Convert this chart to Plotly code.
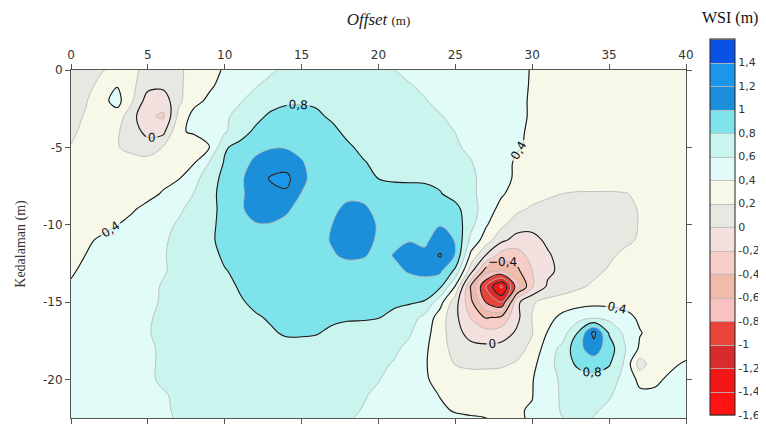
import plotly.graph_objects as go

# ---- grid coordinates (m) ----
offset_m = list(range(0, 41))
depth_m = [0, -1, -2, -3, -4, -5, -6, -7, -8, -9, -10, -11, -12,
           -13, -14, -15, -16, -17, -18, -19, -20, -21, -22, -23]

wsi_y00 = [0.12, 0.16, 0.19, 0.24, 0.22, 0.17, 0.15, 0.17, 0.26, 0.34,
           0.42, 0.48, 0.54, 0.58, 0.63, 0.66, 0.68, 0.69, 0.68, 0.66,
           0.63, 0.602, 0.56, 0.53, 0.5, 0.48, 0.46, 0.44, 0.43, 0.42,
           0.395, 0.38, 0.36, 0.35, 0.34, 0.33, 0.33, 0.32, 0.32, 0.32, 0.32]
wsi_y01 = [0.13, 0.16, 0.24, 0.39, 0.24, 0.06, 0.05, 0.16, 0.3, 0.37,
           0.46, 0.52, 0.59, 0.64, 0.7, 0.73, 0.74, 0.74, 0.73, 0.71,
           0.68, 0.64, 0.61, 0.57, 0.53, 0.5, 0.47, 0.45, 0.43, 0.415,
           0.395, 0.37, 0.35, 0.34, 0.33, 0.33, 0.33, 0.32, 0.32, 0.32, 0.32]
wsi_y02 = [0.14, 0.19, 0.34, 0.47, 0.21, -0.1, -0.12, 0.16, 0.34, 0.44,
           0.53, 0.59, 0.65, 0.72, 0.77, 0.78, 0.78, 0.76, 0.74, 0.72,
           0.7, 0.67, 0.64, 0.61, 0.56, 0.52, 0.49, 0.46, 0.44, 0.42,
           0.39, 0.37, 0.35, 0.34, 0.33, 0.33, 0.32, 0.32, 0.32, 0.32, 0.32]
wsi_y03 = [0.14, 0.22, 0.3, 0.31, 0.06, -0.17, -0.23, 0.25, 0.47, 0.53,
           0.58, 0.64, 0.74, 0.84, 0.87, 0.86, 0.82, 0.78, 0.75, 0.73,
           0.71, 0.69, 0.66, 0.63, 0.61, 0.56, 0.52, 0.48, 0.45, 0.42,
           0.39, 0.37, 0.35, 0.34, 0.33, 0.33, 0.32, 0.32, 0.32, 0.32, 0.32]
wsi_y04 = [0.18, 0.23, 0.28, 0.22, 0.1, -0.07, -0.05, 0.39, 0.41, 0.47,
           0.58, 0.72, 0.84, 0.93, 0.96, 0.94, 0.89, 0.83, 0.77, 0.74,
           0.72, 0.7, 0.68, 0.65, 0.63, 0.598, 0.55, 0.5, 0.46, 0.41,
           0.39, 0.37, 0.35, 0.34, 0.33, 0.33, 0.32, 0.32, 0.32, 0.32, 0.32]
wsi_y05 = [0.205, 0.25, 0.28, 0.21, 0.15, 0.12, 0.21, 0.3, 0.35, 0.39,
           0.78, 0.86, 0.95, 0.99, 0.99, 0.97, 0.92, 0.87, 0.82, 0.77,
           0.74, 0.72, 0.7, 0.68, 0.65, 0.62, 0.57, 0.51, 0.46, 0.41,
           0.38, 0.36, 0.35, 0.34, 0.33, 0.33, 0.32, 0.32, 0.32, 0.32, 0.32]
wsi_y06 = [0.24, 0.28, 0.3, 0.29, 0.27, 0.26, 0.29, 0.33, 0.39, 0.61,
           0.82, 0.93, 1.04, 1.1, 1.1, 1.01, 0.95, 0.9, 0.85, 0.81,
           0.77, 0.74, 0.72, 0.7, 0.68, 0.65, 0.61, 0.53, 0.45, 0.38,
           0.36, 0.35, 0.34, 0.33, 0.33, 0.33, 0.32, 0.32, 0.32, 0.32, 0.32]
wsi_y07 = [0.27, 0.3, 0.32, 0.33, 0.34, 0.35, 0.37, 0.39, 0.53, 0.72,
           0.85, 0.97, 1.1, 1.22, 1.26, 1.03, 0.95, 0.91, 0.87, 0.83,
           0.798, 0.78, 0.78, 0.78, 0.76, 0.7, 0.63, 0.55, 0.46, 0.37,
           0.35, 0.34, 0.33, 0.33, 0.32, 0.32, 0.32, 0.32, 0.32, 0.32, 0.32]
wsi_y08 = [0.3, 0.32, 0.34, 0.35, 0.35, 0.37, 0.41, 0.48, 0.605, 0.74,
           0.87, 0.97, 1.08, 1.14, 1.17, 0.995, 0.93, 0.92, 0.95, 0.94,
           0.9, 0.86, 0.85, 0.84, 0.81, 0.74, 0.64, 0.53, 0.42, 0.33,
           0.28, 0.24, 0.198, 0.18, 0.18, 0.18, 0.19, 0.23, 0.27, 0.29, 0.3]
wsi_y09 = [0.32, 0.34, 0.36, 0.38, 0.39, 0.43, 0.49, 0.57, 0.66, 0.72,
           0.88, 0.98, 1.06, 1.08, 1.03, 0.93, 0.9, 0.96, 1.05, 1.04,
           0.94, 0.88, 0.87, 0.88, 0.88, 0.85, 0.7, 0.49, 0.34, 0.24,
           0.17, 0.12, 0.1, 0.09, 0.09, 0.11, 0.16, 0.21, 0.26, 0.28, 0.29]
wsi_y10 = [0.34, 0.36, 0.38, 0.398, 0.43, 0.48, 0.55, 0.62, 0.7, 0.74,
           0.88, 0.95, 0.99, 0.99, 0.95, 0.9, 0.92, 1.003, 1.1, 1.1,
           0.98, 0.92, 0.93, 0.96, 0.99, 0.92, 0.66, 0.42, 0.24, 0.1,
           0.05, 0.04, 0.04, 0.05, 0.06, 0.08, 0.14, 0.21, 0.25, 0.27, 0.28]
wsi_y11 = [0.37, 0.39, 0.41, 0.44, 0.48, 0.53, 0.58, 0.64, 0.7, 0.76,
           0.87, 0.91, 0.92, 0.91, 0.89, 0.89, 0.93, 1.02, 1.1, 1.08,
           0.97, 0.96, 0.99, 0.96, 1.1, 0.99, 0.55, 0.3, 0.05, -0.08,
           -0.05, 0.03, 0.06, 0.07, 0.08, 0.1, 0.16, 0.22, 0.25, 0.27, 0.28]
wsi_y12 = [0.38, 0.402, 0.43, 0.47, 0.51, 0.55, 0.59, 0.64, 0.7, 0.74,
           0.83, 0.88, 0.89, 0.89, 0.88, 0.88, 0.92, 0.98, 1.04, 1.02,
           0.94, 1.01, 1.08, 1.05, 1.22, 0.99, 0.35, -0.02, -0.3, -0.3,
           -0.12, -0.02, 0.06, 0.1, 0.12, 0.17, 0.24, 0.27, 0.28, 0.29, 0.3]
wsi_y13 = [0.39, 0.42, 0.45, 0.48, 0.52, 0.56, 0.59, 0.63, 0.68, 0.73,
           0.79, 0.84, 0.86, 0.86, 0.86, 0.86, 0.87, 0.88, 0.9, 0.9,
           0.9, 0.95, 1.02, 1.06, 1.04, 0.75, 0.08, -0.52, -0.62, -0.45,
           -0.2, -0.04, 0.05, 0.1, 0.16, 0.22, 0.26, 0.28, 0.29, 0.3, 0.3]
wsi_y14 = [0.41, 0.44, 0.47, 0.5, 0.54, 0.57, 0.61, 0.64, 0.68, 0.72,
           0.77, 0.81, 0.84, 0.85, 0.85, 0.85, 0.85, 0.85, 0.85, 0.86,
           0.87, 0.88, 0.9, 0.9, 0.84, 0.38, -0.42, -1.02, -1.45, -0.7,
           -0.22, 0.03, 0.1, 0.17, 0.23, 0.26, 0.28, 0.29, 0.3, 0.3, 0.31]
wsi_y15 = [0.43, 0.46, 0.49, 0.52, 0.55, 0.58, 0.61, 0.64, 0.67, 0.71,
           0.75, 0.79, 0.82, 0.84, 0.84, 0.84, 0.84, 0.83, 0.83, 0.83,
           0.83, 0.83, 0.82, 0.79, 0.48, 0.08, -0.35, -0.82, -1.02, -0.05,
           0.18, 0.26, 0.3, 0.33, 0.34, 0.34, 0.34, 0.33, 0.32, 0.32, 0.32]
wsi_y16 = [0.45, 0.48, 0.51, 0.54, 0.56, 0.59, 0.62, 0.65, 0.68, 0.71,
           0.74, 0.77, 0.79, 0.81, 0.82, 0.82, 0.82, 0.82, 0.81, 0.81,
           0.805, 0.76, 0.69, 0.55, 0.3, 0.05, -0.21, -0.42, -0.35, -0.05,
           0.21, 0.34, 0.45, 0.52, 0.57, 0.54, 0.46, 0.37, 0.33, 0.32, 0.32]
wsi_y17 = [0.47, 0.5, 0.53, 0.55, 0.57, 0.595, 0.62, 0.65, 0.68, 0.71,
           0.73, 0.75, 0.77, 0.79, 0.81, 0.81, 0.805, 0.78, 0.77, 0.76,
           0.73, 0.68, 0.62, 0.48, 0.28, 0.08, -0.08, -0.12, -0.1, 0.03,
           0.19, 0.41, 0.52, 0.82, 1.26, 0.78, 0.56, 0.41, 0.34, 0.32, 0.32]
wsi_y18 = [0.49, 0.51, 0.54, 0.56, 0.58, 0.59, 0.61, 0.64, 0.67, 0.69,
           0.71, 0.73, 0.75, 0.76, 0.77, 0.77, 0.76, 0.75, 0.73, 0.71,
           0.68, 0.63, 0.56, 0.44, 0.27, 0.14, 0.07, 0.05, 0.07, 0.12,
           0.26, 0.5, 0.66, 0.95, 1.1, 0.9, 0.62, 0.37, 0.33, 0.33, 0.33]
wsi_y19 = [0.5, 0.52, 0.54, 0.56, 0.58, 0.59, 0.61, 0.63, 0.65, 0.67,
           0.69, 0.71, 0.72, 0.73, 0.73, 0.73, 0.72, 0.71, 0.69, 0.66,
           0.63, 0.59, 0.52, 0.42, 0.3, 0.19, 0.16, 0.16, 0.17, 0.22,
           0.35, 0.52, 0.7, 0.84, 0.9, 0.82, 0.58, 0.1, 0.33, 0.37, 0.42]
wsi_y20 = [0.51, 0.53, 0.55, 0.56, 0.58, 0.59, 0.61, 0.62, 0.64, 0.66,
           0.67, 0.68, 0.7, 0.7, 0.71, 0.7, 0.7, 0.68, 0.66, 0.63,
           0.605, 0.56, 0.49, 0.42, 0.35, 0.3, 0.28, 0.28, 0.29, 0.33,
           0.39, 0.52, 0.64, 0.71, 0.73, 0.69, 0.54, 0.35, 0.37, 0.43, 0.45]
wsi_y21 = [0.52, 0.54, 0.55, 0.56, 0.57, 0.58, 0.595, 0.61, 0.62, 0.63,
           0.65, 0.66, 0.67, 0.68, 0.68, 0.68, 0.67, 0.66, 0.64, 0.61,
           0.58, 0.54, 0.49, 0.44, 0.395, 0.36, 0.34, 0.34, 0.35, 0.37,
           0.395, 0.52, 0.63, 0.67, 0.67, 0.62, 0.52, 0.44, 0.43, 0.45, 0.46]
wsi_y22 = [0.53, 0.54, 0.55, 0.56, 0.57, 0.58, 0.595, 0.605, 0.61, 0.62,
           0.63, 0.64, 0.65, 0.65, 0.65, 0.65, 0.64, 0.63, 0.62, 0.595,
           0.57, 0.53, 0.49, 0.46, 0.42, 0.39, 0.38, 0.38, 0.38, 0.39,
           0.41, 0.52, 0.62, 0.64, 0.62, 0.56, 0.5, 0.47, 0.46, 0.47, 0.48]
wsi_y23 = [0.54, 0.55, 0.56, 0.57, 0.58, 0.59, 0.59, 0.602, 0.605, 0.61,
           0.62, 0.63, 0.63, 0.63, 0.63, 0.63, 0.62, 0.61, 0.598, 0.58,
           0.56, 0.53, 0.5, 0.48, 0.46, 0.45, 0.44, 0.42, 0.39, 0.38,
           0.41, 0.5, 0.58, 0.598, 0.57, 0.53, 0.5, 0.48, 0.47, 0.48, 0.49]

wsi_rows = [wsi_y00, wsi_y01, wsi_y02, wsi_y03, wsi_y04, wsi_y05, wsi_y06,
            wsi_y07, wsi_y08, wsi_y09, wsi_y10, wsi_y11, wsi_y12, wsi_y13,
            wsi_y14, wsi_y15, wsi_y16, wsi_y17, wsi_y18, wsi_y19, wsi_y20,
            wsi_y21, wsi_y22, wsi_y23]

# ---- legend classes (bottom -1.6 .. top 1.6, step 0.2) ----
band_colors = ['#ff1212', '#f31616', '#d92b2b', '#e8443a',
               '#f7c2c0', '#f1bba9', '#f6cdc7', '#f3e1df',
               '#e8e8e3', '#f8f8e9', '#e1fbf8', '#c9f5ee',
               '#7fe3ec', '#1b8fd9', '#1a96ea', '#0a52e6']
cbar_tickvals = [-1.6, -1.4, -1.2, -1.0, -0.8, -0.6, -0.4, -0.2, 0,
                 0.2, 0.4, 0.6, 0.8, 1.0, 1.2, 1.4]
cbar_ticktext = ['-1,6', '-1,4', '-1,2', '-1', '-0,8', '-0,6', '-0,4', '-0,2', '0',
                 '0,2', '0,4', '0,6', '0,8', '1', '1,2', '1,4']
x_tickvals = [0, 5, 10, 15, 20, 25, 30, 35, 40]
y_tickvals = [0, -5, -10, -15, -20]
y_ticktext = ['0', '-5', '-10', '-15', '-20']

n = len(band_colors)
colorscale = []
for i, c in enumerate(band_colors):
    colorscale.append([i / n, c])
    colorscale.append([(i + 1) / n, c])

fig = go.Figure()

fig.add_trace(go.Contour(
    x=offset_m, y=depth_m, z=wsi_rows,
    zmin=-1.6, zmax=1.6, autocontour=False,
    contours=dict(start=-1.6, end=1.6, size=0.2, coloring='fill', showlines=True),
    line=dict(color='#bababa', width=0.9, smoothing=1.0),
    colorscale=colorscale,
    colorbar=dict(
        thickness=25, len=376, lenmode='pixels',
        x=1.039, xanchor='left', xpad=0,
        y=1.089, yanchor='top', ypad=0,
        tickvals=cbar_tickvals, ticktext=cbar_ticktext, ticks='',
        tickfont=dict(family='DejaVu Sans', size=11, color='#333'),
        outlinecolor='#222', outlinewidth=1,
    ),
    hoverinfo='skip',
))

fig.add_trace(go.Contour(
    x=offset_m, y=depth_m, z=wsi_rows,
    autocontour=False, showscale=False,
    contours=dict(start=-1.2, end=1.2, size=0.4, coloring='none',
                  showlabels=True,
                  labelfont=dict(family='DejaVu Sans', size=12, color='#111')),
    line=dict(color='#1a1a1a', width=1.1, smoothing=1.0),
    hoverinfo='skip',
))

axis_common = dict(showgrid=False, zeroline=False, showline=True, linecolor='#555',
                   linewidth=1, mirror='ticks', ticks='outside', ticklen=5,
                   tickcolor='#555',
                   tickfont=dict(family='DejaVu Sans', size=12, color='#333'))

# the page body adds an 8 px offset; the figure is sized so the plot lands
# where it sits in the reference (plot area x 71-686, y 70-418)
fig.update_layout(
    width=758, height=418,
    margin=dict(l=63, r=80, t=62, b=8, autoexpand=False),
    paper_bgcolor='white', plot_bgcolor='white',
    separators=',.',
    showlegend=False,
    xaxis=dict(side='top', range=[0, 40], tickvals=x_tickvals, automargin=False,
               title=dict(text='<i>Offset</i> <span style="font-size:13px">(m)</span>',
                          font=dict(family='Liberation Serif', size=17, color='#222'),
                          standoff=18),
               **axis_common),
    yaxis=dict(range=[-22.5, 0], tickvals=y_tickvals, ticktext=y_ticktext, automargin=False,
               title=dict(text='Kedalaman (m)',
                          font=dict(family='Liberation Serif', size=14, color='#333'),
                          standoff=14),
               **axis_common),
    annotations=[dict(text='WSI (m)', x=1.071, y=1.149, xref='paper', yref='paper',
                      xanchor='center', yanchor='middle', showarrow=False,
                      font=dict(family='Liberation Serif', size=16, color='#111'))],
)

fig.write_html('out.html')
